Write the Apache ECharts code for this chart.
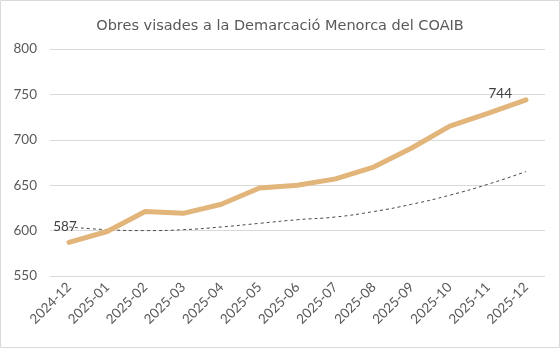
<!DOCTYPE html>
<html><head><meta charset="utf-8">
<script src="https://cdn.jsdelivr.net/npm/echarts@6/dist/echarts.min.js"></script>
<style>html,body{margin:0;padding:0;background:#fff}#c{width:560px;height:348px}</style>
</head><body><div id="c"></div>
<script>
const categories = ['2024-12','2025-01','2025-02','2025-03','2025-04','2025-05','2025-06','2025-07','2025-08','2025-09','2025-10','2025-11','2025-12'];
const obres = [587, 599, 621, 619, 629, 647, 650, 657, 670, 691, 715, 729, 744];
const tendencia = [604, 601, 600, 601, 604, 608, 612, 615, 621, 629, 639, 651, 665];
const yTicks = [550, 600, 650, 700, 750, 800];

const chart = echarts.init(document.getElementById('c'), null, {renderer:'canvas'});
const font = 'Lato, "Noto Sans", sans-serif';
chart.setOption({
  animation:false,
  backgroundColor:'#fff',
  graphic:[{type:'rect',shape:{x:0.5,y:0.5,width:559,height:347},style:{fill:'none',stroke:'#d9d9d9',lineWidth:1},silent:true}],
  title:{text:'Obres visades a la Demarcació Menorca del COAIB',left:'center',top:14,
    textStyle:{fontFamily:'"DejaVu Sans", sans-serif',fontSize:14.5,fontWeight:'normal',color:'#595959'}},
  grid:{left:50,right:15,top:49,bottom:72},
  xAxis:{type:'category',data:categories,boundaryGap:true,
    axisLine:{show:false},axisTick:{show:false},
    axisLabel:{rotate:45,color:'#595959',fontFamily:font,fontSize:13.5,margin:9,interval:0}},
  yAxis:{type:'value',min:yTicks[0],max:yTicks[yTicks.length-1],interval:50,
    axisLine:{show:false},axisTick:{show:false},
    splitLine:{lineStyle:{color:'#d9d9d9',width:1}},
    axisLabel:{color:'#595959',fontFamily:font,fontSize:13.5,margin:13}},
  series:[
    {type:'line',data:tendencia,smooth:true,symbol:'none',z:1,
      lineStyle:{color:'#4a4a4a',width:1,type:[3,3]}},
    {type:'line',data:obres.map((v,i)=>{
        if(i===0) return {value:v,label:{show:true,position:'top',offset:[-4,-3]}};
        if(i===obres.length-1) return {value:v,label:{show:true,position:'left',offset:[-8,-6]}};
        return v;}),
      symbol:'circle',symbolSize:2,showSymbol:true,z:2,
      itemStyle:{color:'#e2b57b'},
      lineStyle:{color:'#e2b57b',width:5,cap:'round',join:'round'},
      label:{show:false,color:'#404040',fontFamily:font,fontSize:13.5}}
  ]
});
</script></body></html>
